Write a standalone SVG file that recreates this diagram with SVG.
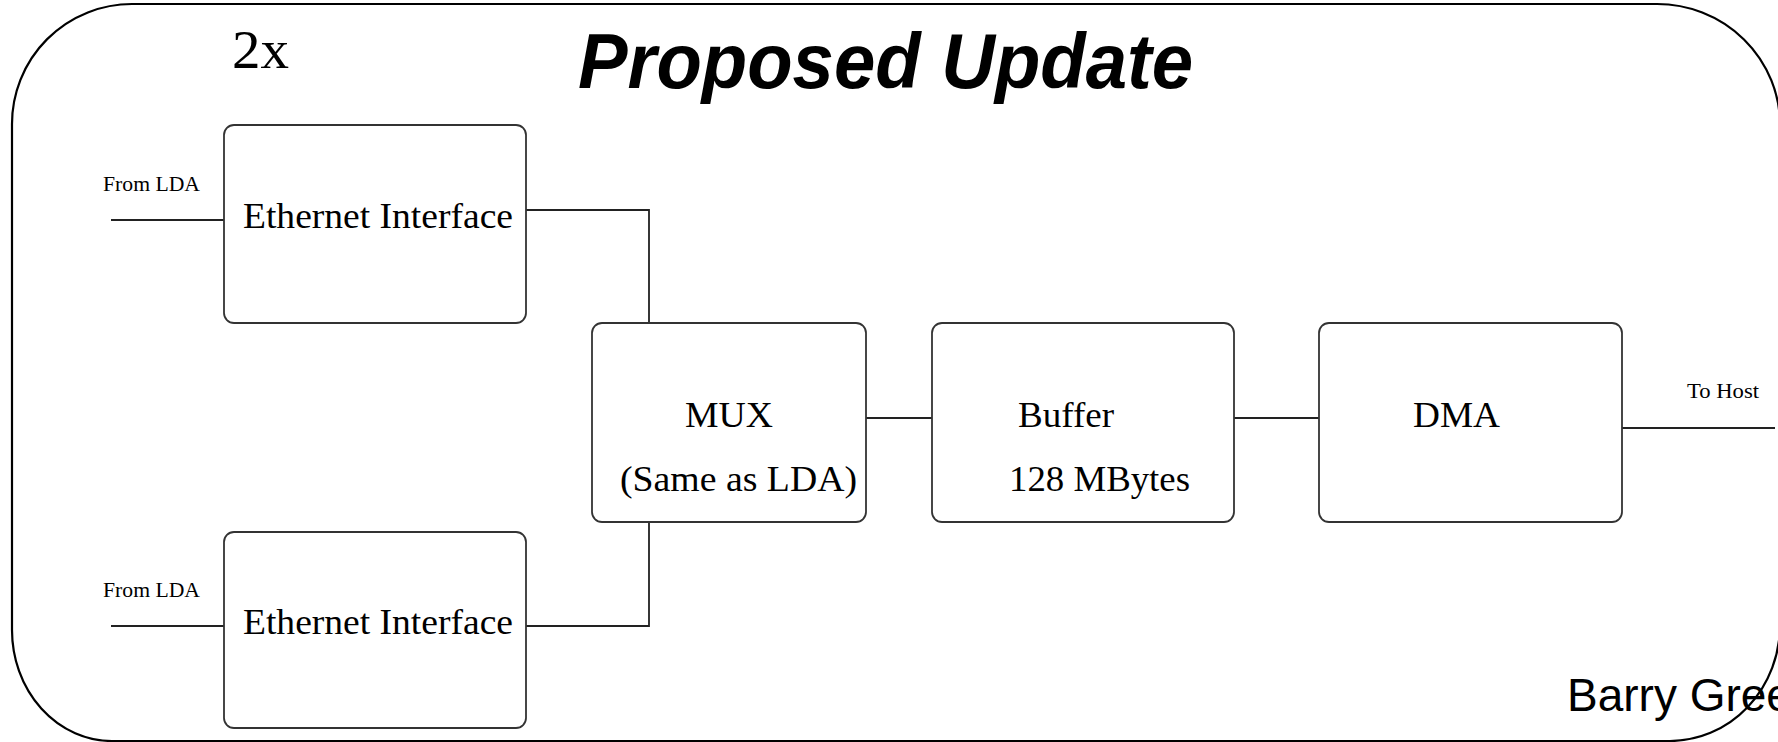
<svg xmlns="http://www.w3.org/2000/svg" width="1778" height="742" viewBox="0 0 1778 742">
<style>
.frame{fill:none;stroke:#000;stroke-width:2.2}
.box{fill:#fff;stroke:#333;stroke-width:1.8}
.wire{fill:none;stroke:#222;stroke-width:1.8}
.serif{font-family:"Liberation Serif","Times New Roman",serif;fill:#000}
.lbl{font-size:35px}
.small{font-size:20px}
.title{font-family:"Liberation Sans",Arial,sans-serif;font-weight:bold;font-style:italic;font-size:77px;fill:#000}
.author{font-family:"Liberation Sans",Arial,sans-serif;font-size:46px;fill:#000}
</style>
<rect width="1778" height="742" fill="#fff"/>
<path class="frame" d="M132 4H1657A123 121 0 0 1 1780 125V625A110 116 0 0 1 1670 741H112A100 111 0 0 1 12 630V124A120 120 0 0 1 132 4Z"/>
<text class="serif" x="232" y="68" font-size="54" textLength="57" lengthAdjust="spacingAndGlyphs">2x</text>
<text class="title" x="578" y="88" textLength="615" lengthAdjust="spacingAndGlyphs">Proposed Update</text>
<g id="connectors">
<path class="wire" d="M111 220H224"/>
<path class="wire" d="M111 626H224"/>
<path class="wire" d="M526 210H649V323"/>
<path class="wire" d="M526 626H649V522"/>
<path class="wire" d="M866 418H932"/>
<path class="wire" d="M1234 418H1319"/>
<path class="wire" d="M1622 428H1775"/>
<text class="serif small" x="103" y="191" textLength="97" lengthAdjust="spacingAndGlyphs">From LDA</text>
<text class="serif small" x="103" y="597" textLength="97" lengthAdjust="spacingAndGlyphs">From LDA</text>
<text class="serif small" x="1687" y="398" font-size="21" textLength="72" lengthAdjust="spacingAndGlyphs">To Host</text>
</g>
<g id="eth1">
<rect class="box" x="224" y="125" width="302" height="198" rx="10"/>
<text class="serif lbl" x="243" y="228" textLength="270" lengthAdjust="spacingAndGlyphs">Ethernet Interface</text>
</g>
<g id="eth2">
<rect class="box" x="224" y="532" width="302" height="196" rx="10"/>
<text class="serif lbl" x="243" y="634" textLength="270" lengthAdjust="spacingAndGlyphs">Ethernet Interface</text>
</g>
<g id="mux">
<rect class="box" x="592" y="323" width="274" height="199" rx="10"/>
<text class="serif lbl" x="685" y="427" textLength="88" lengthAdjust="spacingAndGlyphs">MUX</text>
<text class="serif lbl" x="620" y="491" textLength="237" lengthAdjust="spacingAndGlyphs">(Same as LDA)</text>
</g>
<g id="buffer">
<rect class="box" x="932" y="323" width="302" height="199" rx="10"/>
<text class="serif lbl" x="1018" y="427" textLength="96" lengthAdjust="spacingAndGlyphs">Buffer</text>
<text class="serif lbl" x="1009" y="491" textLength="181" lengthAdjust="spacingAndGlyphs">128 MBytes</text>
</g>
<g id="dma">
<rect class="box" x="1319" y="323" width="303" height="199" rx="10"/>
<text class="serif lbl" x="1413" y="427" textLength="87" lengthAdjust="spacingAndGlyphs">DMA</text>
</g>
<text class="author" x="1567" y="711">Barry Gree</text>
</svg>
